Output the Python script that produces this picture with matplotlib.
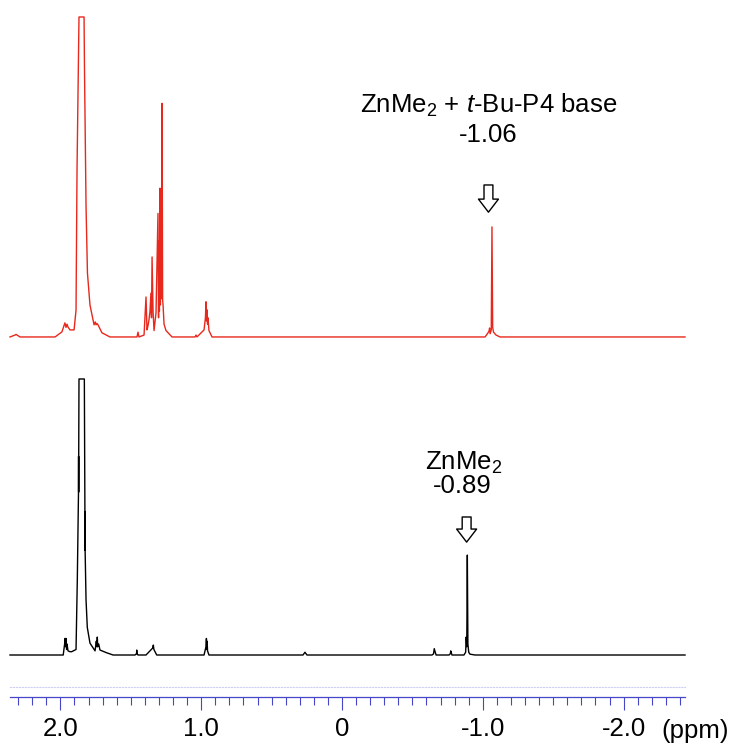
import matplotlib.pyplot as plt
from matplotlib.ticker import FixedLocator, MultipleLocator

plt.rcParams["font.family"] = "Liberation Sans"
plt.rcParams["mathtext.fontset"] = "custom"
plt.rcParams["mathtext.rm"] = "Liberation Sans"
plt.rcParams["mathtext.it"] = "Liberation Sans:italic"

# upper trace: ZnMe2 + t-Bu-P4 base (intensity, tallest peak clipped at 100)
red_ppm = [2.358, 2.322, 2.315, 2.308, 2.287, 2.038, 1.989, 1.968, 1.960, 1.953,
           1.946, 1.932, 1.903, 1.889, 1.882, 1.868, 1.832, 1.829, 1.818, 1.808,
           1.790, 1.761, 1.752, 1.747, 1.740, 1.733, 1.705, 1.648, 1.456, 1.449,
           1.442, 1.406, 1.392, 1.385, 1.378, 1.371, 1.364, 1.357, 1.353, 1.349,
           1.342, 1.335, 1.321, 1.307, 1.303, 1.300, 1.297, 1.293, 1.290, 1.286,
           1.282, 1.278, 1.274, 1.271, 1.264, 1.250, 1.207, 1.044, 1.037, 1.030,
           0.980, 0.970, 0.966, 0.963, 0.959, 0.955, 0.952, 0.945, 0.923, -1.016,
           -1.037, -1.044, -1.048, -1.052, -1.060, -1.065, -1.070, -1.076, -1.094,
           -1.122, -2.436]
red_int = [0, 0.6, 0.8, 0.6, 0, 0, 1.6, 4.4, 3.0, 4.0,
           3.1, 2.2, 2.2, 8.4, 52, 100, 100, 84, 41, 20,
           10, 3.8, 4.7, 3.8, 4.2, 3.8, 1.3, 0, 0, 1.5,
           0, 0.6, 12.5, 2.2, 3.5, 5.3, 8, 13.7, 6, 25,
           8, 2, 7.5, 38.6, 6, 30, 8, 46.5, 10, 35,
           12, 73, 11.5, 10, 4, 2, 0, 0, 0.6, 0,
           2.2, 6, 11, 5, 8.5, 4, 6, 2, 0, 0,
           1.3, 1.8, 2.8, 1, 2.2, 34.4, 3, 1.5, 0.6,
           0, 0]

# lower trace: ZnMe2 alone
black_ppm = [2.358, 1.980, 1.970, 1.967, 1.963, 1.960, 1.956, 1.953, 1.946, 1.932,
             1.920, 1.889, 1.880, 1.8715, 1.871, 1.8705, 1.870, 1.868, 1.830, 1.826,
             1.8255, 1.825, 1.8245, 1.818, 1.809, 1.790, 1.754, 1.745, 1.741, 1.738,
             1.735, 1.728, 1.719, 1.671, 1.626, 1.470, 1.459, 1.458, 1.456, 1.449,
             1.392, 1.345, 1.340, 1.336, 1.316, 0.980, 0.966, 0.963, 0.961, 0.958,
             0.955, 0.945, 0.277, 0.263, 0.249, -0.639, -0.650, -0.655, -0.668, -0.760,
             -0.770, -0.772, -0.781, -0.866, -0.878, -0.882, -0.886, -0.890, -0.894, -0.900,
             -0.909, -0.945, -2.436]
black_int = [0, 0, 4, 6, 3, 6, 2, 4, 1.5, 1.2,
             1.2, 2, 27, 59, 72, 59, 72, 100, 100, 52,
             38, 52, 38, 20, 10, 4.3, 1.5, 5, 3, 6.5,
             3, 4, 1.8, 0.8, 0, 0, 0.5, 1.8, 0.5, 0,
             0, 2.5, 3.6, 2, 0, 0, 3, 6, 2, 5,
             1.5, 0, 0, 1.0, 0, 0, 0.4, 2.3, 0, 0,
             0.5, 1.5, 0, 0, 1, 6.5, 3, 36.2, 4, 1,
             0.3, 0, 0]

red_label = "ZnMe$_2$ + $t$-Bu-P4 base"
red_shift = "-1.06"
red_mark = -1.04
black_label = "ZnMe$_2$"
black_shift = "-0.89"
black_mark = -0.885

major_ticks = [2.0, 1.0, 0.0, -1.0, -2.0]
major_labels = ["2.0", "1.0", "0", "-1.0", "-2.0"]

RED = "#e8281c"
BLUE = "#4646c8"
FS = 18.5
XLIM = (2.429, -2.791)


def hollow_arrow(ax, x, y_top, y_tip):
    ax.annotate("", xy=(x, y_tip), xytext=(x, y_top),
                arrowprops=dict(arrowstyle="simple,head_length=0.47,head_width=0.72,tail_width=0.32",
                                fc="white", ec="black", lw=1.0,
                                shrinkA=0, shrinkB=0, mutation_scale=20),
                annotation_clip=False)


fig = plt.figure(figsize=(7.35, 7.45), dpi=100)

ax_red = fig.add_axes([0, 0.5477, 1, 0.4295])
ax_red.plot(red_ppm, red_int, color=RED, lw=1.0, clip_on=False)
ax_red.set_xlim(*XLIM)
ax_red.set_ylim(0, 100)
ax_red.axis("off")
ax_red.text(red_mark, 72.5, red_label, ha="center", va="center", fontsize=FS)
ax_red.text(red_mark, 63.1, red_shift, ha="center", va="center", fontsize=FS)
hollow_arrow(ax_red, red_mark, 47.5, 39)

ax_blk = fig.add_axes([0, 0.1208, 1, 0.3705])
ax_blk.plot(black_ppm, black_int, color="black", lw=1.0, clip_on=False)
ax_blk.set_xlim(*XLIM)
ax_blk.set_ylim(0, 100)
ax_blk.axis("off")
ax_blk.text(black_mark + 0.02, 69.5, black_label, ha="center", va="center", fontsize=FS)
ax_blk.text(black_mark + 0.03, 61.2, black_shift, ha="center", va="center", fontsize=FS)
hollow_arrow(ax_blk, black_mark, 50, 40.9)

# ppm scale bar
ax_sc = fig.add_axes([10 / 735, 48 / 745, 675 / 735, 10 / 745])
ax_sc.set_xlim(2.358, -2.436)
ax_sc.set_yticks([])
for side in ["left", "right"]:
    ax_sc.spines[side].set_visible(False)
ax_sc.spines["bottom"].set_color(BLUE)
ax_sc.spines["bottom"].set_linewidth(0.9)
ax_sc.spines["top"].set_color("#cdd0f2")
ax_sc.spines["top"].set_linestyle(":")
ax_sc.spines["top"].set_linewidth(0.8)
ax_sc.xaxis.set_major_locator(FixedLocator(major_ticks))
ax_sc.set_xticklabels(major_labels)
ax_sc.xaxis.set_minor_locator(MultipleLocator(0.1))
ax_sc.tick_params(axis="x", which="major", direction="out", length=9.4, width=0.8,
                  color=BLUE, labelsize=FS, pad=5)
ax_sc.tick_params(axis="x", which="minor", direction="out", length=5.8, width=0.8,
                  color=BLUE)
ax_sc.text(-2.507, -3.4, "(ppm)", transform=ax_sc.get_xaxis_transform(),
           ha="center", va="center", fontsize=FS, clip_on=False)

fig.savefig("out.png", dpi=100)
